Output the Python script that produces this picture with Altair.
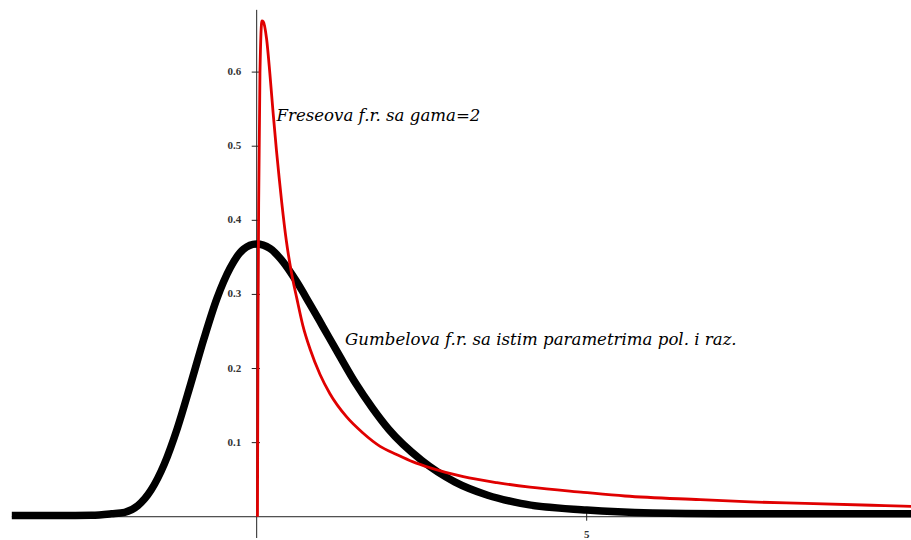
import altair as alt
import pandas as pd

# Gumbel density (thick black curve)
gumbel_x = [-3.71, -3.0, -2.5, -2.2, -2.0, -1.8, -1.6, -1.4, -1.2, -1.0,
            -0.8, -0.6, -0.4, -0.2, 0.0, 0.2, 0.4, 0.6, 0.8, 1.0,
            1.25, 1.5, 1.75, 2.0, 2.5, 3.0, 3.5, 4.0, 5.0, 6.0,
            7.0, 8.0, 9.92]
gumbel_y = [0.0015, 0.0015, 0.002, 0.004, 0.006, 0.015, 0.036, 0.071, 0.120, 0.179,
            0.240, 0.295, 0.336, 0.361, 0.368, 0.362, 0.344, 0.318, 0.288, 0.257,
            0.218, 0.180, 0.147, 0.118, 0.076, 0.047, 0.029, 0.018, 0.009, 0.005,
            0.004, 0.004, 0.004]

# Frechet density with gamma = 2 (thin red curve)
frechet_x = [0.012, 0.02, 0.03, 0.05, 0.08, 0.10, 0.15, 0.20, 0.25, 0.30,
             0.34, 0.38, 0.45, 0.53, 0.61, 0.70, 0.81, 0.96, 1.11, 1.36,
             1.61, 1.87, 2.12, 2.37, 2.63, 3.13, 3.64, 4.14, 4.95, 5.58,
             6.72, 7.48, 8.31, 9.52, 9.92]
frechet_y = [0.0, 0.25, 0.42, 0.60, 0.669, 0.668, 0.645, 0.598, 0.544, 0.494,
             0.458, 0.424, 0.372, 0.328, 0.294, 0.258, 0.226, 0.192, 0.166, 0.135,
             0.113, 0.095, 0.084, 0.074, 0.066, 0.054, 0.046, 0.040, 0.033, 0.028,
             0.023, 0.020, 0.018, 0.015, 0.014]

y_ticks = [0.1, 0.2, 0.3, 0.4, 0.5, 0.6]
y_tick_labels = ["0.1", "0.2", "0.3", "0.4", "0.5", "0.6"]
x_ticks = [5]
x_tick_labels = ["5"]

label_texts = ["Freseova f.r. sa gama=2",
               "Gumbelova f.r. sa istim parametrima pol. i raz."]
label_x = [0.30, 1.34]
label_y = [0.534, 0.232]

X_DOMAIN = [-3.889, 9.914]
Y_DOMAIN = [-0.0314, 0.6973]

xs = alt.Scale(domain=X_DOMAIN, nice=False, zero=False)
ys = alt.Scale(domain=Y_DOMAIN, nice=False, zero=False)

def X(field):
    return alt.X(field, type="quantitative", scale=xs, axis=None)

def Y(field):
    return alt.Y(field, type="quantitative", scale=ys, axis=None)

# axis lines through the origin
axis_df = pd.DataFrame({
    "x": [0.0, -3.71], "x2": [0.0, 9.914],
    "y": [-0.0287, 0.0], "y2": [0.684, 0.0],
})
axes = alt.Chart(axis_df).mark_rule(color="#222222", strokeWidth=1).encode(
    x=X("x"), x2="x2", y=Y("y"), y2="y2")

ytick_df = pd.DataFrame({"y": y_ticks, "label": y_tick_labels,
                         "x1": [-0.075] * len(y_ticks), "x2": [0.05] * len(y_ticks),
                         "lx": [-0.235] * len(y_ticks)})
yticks = alt.Chart(ytick_df).mark_rule(color="#222222", strokeWidth=1).encode(
    x=X("x1"), x2="x2", y=Y("y"))
ylabels = alt.Chart(ytick_df).mark_text(
    align="right", baseline="middle", font="Liberation Serif", fontSize=11,
    fontWeight="bold", color="#333333").encode(x=X("lx"), y=Y("y"), text="label:N")

xtick_df = pd.DataFrame({"x": x_ticks, "label": x_tick_labels,
                         "y1": [0.0054] * len(x_ticks), "y2": [-0.0054] * len(x_ticks),
                         "ly": [-0.0247] * len(x_ticks)})
xticks = alt.Chart(xtick_df).mark_rule(color="#222222", strokeWidth=1).encode(
    x=X("x"), y=Y("y1"), y2="y2")
xlabels = alt.Chart(xtick_df).mark_text(
    align="center", baseline="middle", font="Liberation Serif", fontSize=11,
    fontWeight="bold", color="#333333").encode(x=X("x"), y=Y("ly"), text="label:N")

gumbel = alt.Chart(pd.DataFrame({"x": gumbel_x, "y": gumbel_y})).mark_line(
    color="black", strokeWidth=7.5, strokeJoin="round", strokeCap="butt",
    interpolate="monotone").encode(x=X("x"), y=Y("y"), order="x:Q")

frechet = alt.Chart(pd.DataFrame({"x": frechet_x, "y": frechet_y})).mark_line(
    color="#e00000", strokeWidth=2.8, strokeJoin="round",
    interpolate="monotone").encode(x=X("x"), y=Y("y"), order="x:Q")

labels = alt.Chart(pd.DataFrame({"x": label_x, "y": label_y, "t": label_texts})).mark_text(
    align="left", baseline="alphabetic", font="DejaVu Serif", fontStyle="italic",
    fontSize=16.6, color="black").encode(x=X("x"), y=Y("y"), text="t:N")

chart = alt.layer(axes, yticks, ylabels, xticks, xlabels, gumbel, frechet, labels).properties(
    width=911, height=540, autosize=alt.AutoSizeParams(type="none"), padding=0,
    background="white",
).configure_view(stroke=None)

chart.save("out.html", embed_options={"renderer": "svg", "actions": False})
